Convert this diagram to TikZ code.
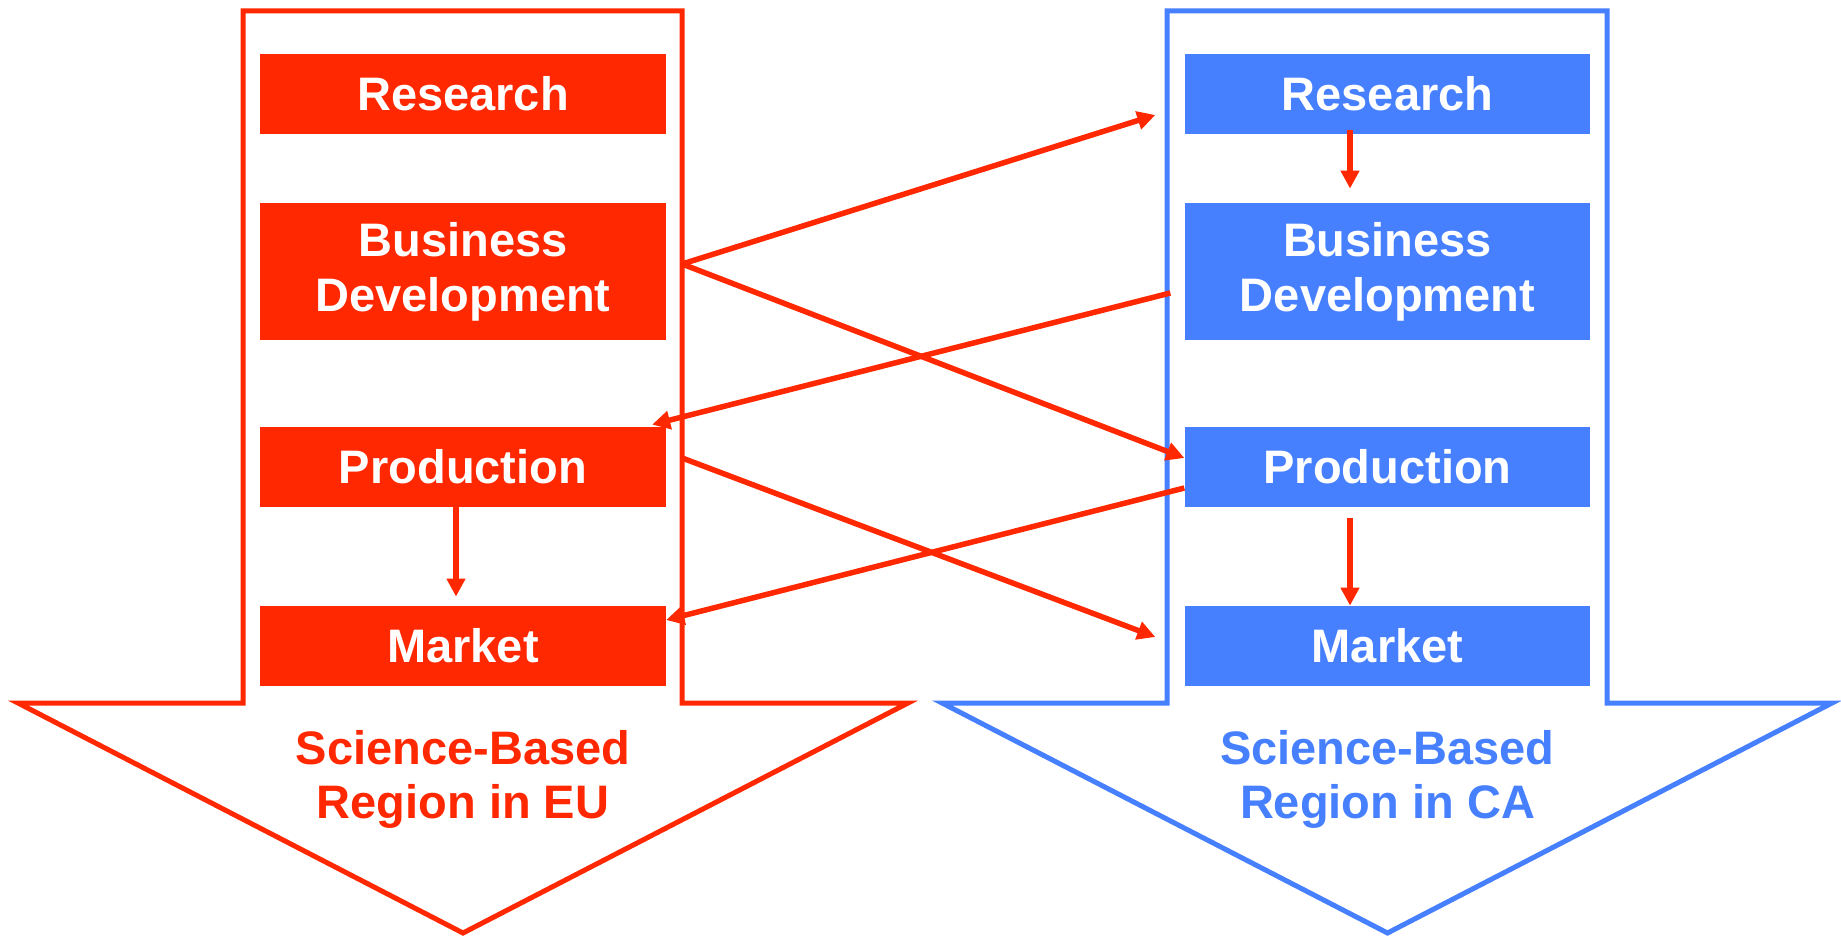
\documentclass[tikz,border=0pt]{standalone}
\usepackage{fontspec}
\setmainfont{Liberation Sans}
\usepackage{tikz}
\usetikzlibrary{positioning,arrows.meta}

\definecolor{eured}{RGB}{255,40,0}
\definecolor{cablue}{RGB}{70,128,255}

\tikzset{
	stage/.style={rectangle, inner sep=0pt, minimum width=202.75pt, text=white, align=center,
		font=\fontsize{23.5}{27.5}\selectfont\bfseries},
	shortstage/.style={stage, minimum height=40pt},
	tallstage/.style={stage, minimum height=68.5pt},
	region/.style={align=center, inner sep=0pt, font=\fontsize{23.5}{27}\selectfont\bfseries},
	bigarrow/.style={draw=#1, line width=2.5pt, line join=miter, fill=white},
	flow/.style={eured, line width=2.75pt, -{Triangle[length=9pt,width=9pt]}}
}

\begin{document}
\begin{tikzpicture}[x=0.5pt, y=-0.5pt]
			\useasboundingbox (0,0) rectangle (1841,936);
			
			% the two regions
			\draw[bigarrow=eured] (243,11) -- (682,11) -- (682,703) -- (908,703) -- (463,933) -- (18,703) -- (243,703) -- cycle;
			\draw[bigarrow=cablue] (1167,11) -- (1607,11) -- (1607,703) -- (1832,703) -- (1387.5,933) -- (942,703) -- (1167,703) -- cycle;
			
			\node[shortstage, fill=eured] (eures) at (463, 94) {Research};
			\node[tallstage, fill=eured] (eubiz) at (463, 271.5) {Business\\Development};
			\node[shortstage, fill=eured] (euprod) at (463, 467) {Production};
			\node[shortstage, fill=eured] (eumarket) at (463, 646) {Market};
			
			\node[shortstage, fill=cablue] (cares) at (1387.5, 94) {Research};
			\node[tallstage, fill=cablue] (cabiz) at (1387.5, 271.5) {Business\\Development};
			\node[shortstage, fill=cablue] (caprod) at (1387.5, 467) {Production};
			\node[shortstage, fill=cablue] (camarket) at (1387.5, 646) {Market};
			
			\node[region, text=eured] (eulabel) at (463, 779) {Science-Based\\Region in EU};
			\node[region, text=cablue] (calabel) at (1387.5, 779) {Science-Based\\Region in CA};
			
			% flows inside a region
			\draw[flow] ([xshift=-18.75pt, yshift=2pt]cares.south) -- ([xshift=-18.75pt, yshift=7pt]cabiz.north);
			\draw[flow] ([xshift=-18.75pt, yshift=-5.5pt]caprod.south) -- ([xshift=-18.75pt]camarket.north);
			\draw[flow] ([xshift=-3.5pt]euprod.south) -- ([xshift=-3.5pt, yshift=4.5pt]eumarket.north);
			
			% flows between the regions
			\draw[flow] ([xshift=8pt, yshift=3.75pt]eubiz.east) -- ([xshift=-14.5pt, yshift=-10.5pt]cares.west);
			\draw[flow] ([xshift=8pt, yshift=3.75pt]eubiz.east) -- ([yshift=4.5pt]caprod.west);
			\draw[flow] ([xshift=-7pt, yshift=-10.75pt]cabiz.west) -- ([xshift=-7pt, yshift=1pt]euprod.north east);
			\draw[flow] ([yshift=-10.5pt]caprod.west) -- ([yshift=13pt]eumarket.east);
			\draw[flow] ([xshift=8pt, yshift=4.5pt]euprod.east) -- ([xshift=-14.5pt, yshift=4.5pt]camarket.west);
			\end{tikzpicture}
\end{document}
